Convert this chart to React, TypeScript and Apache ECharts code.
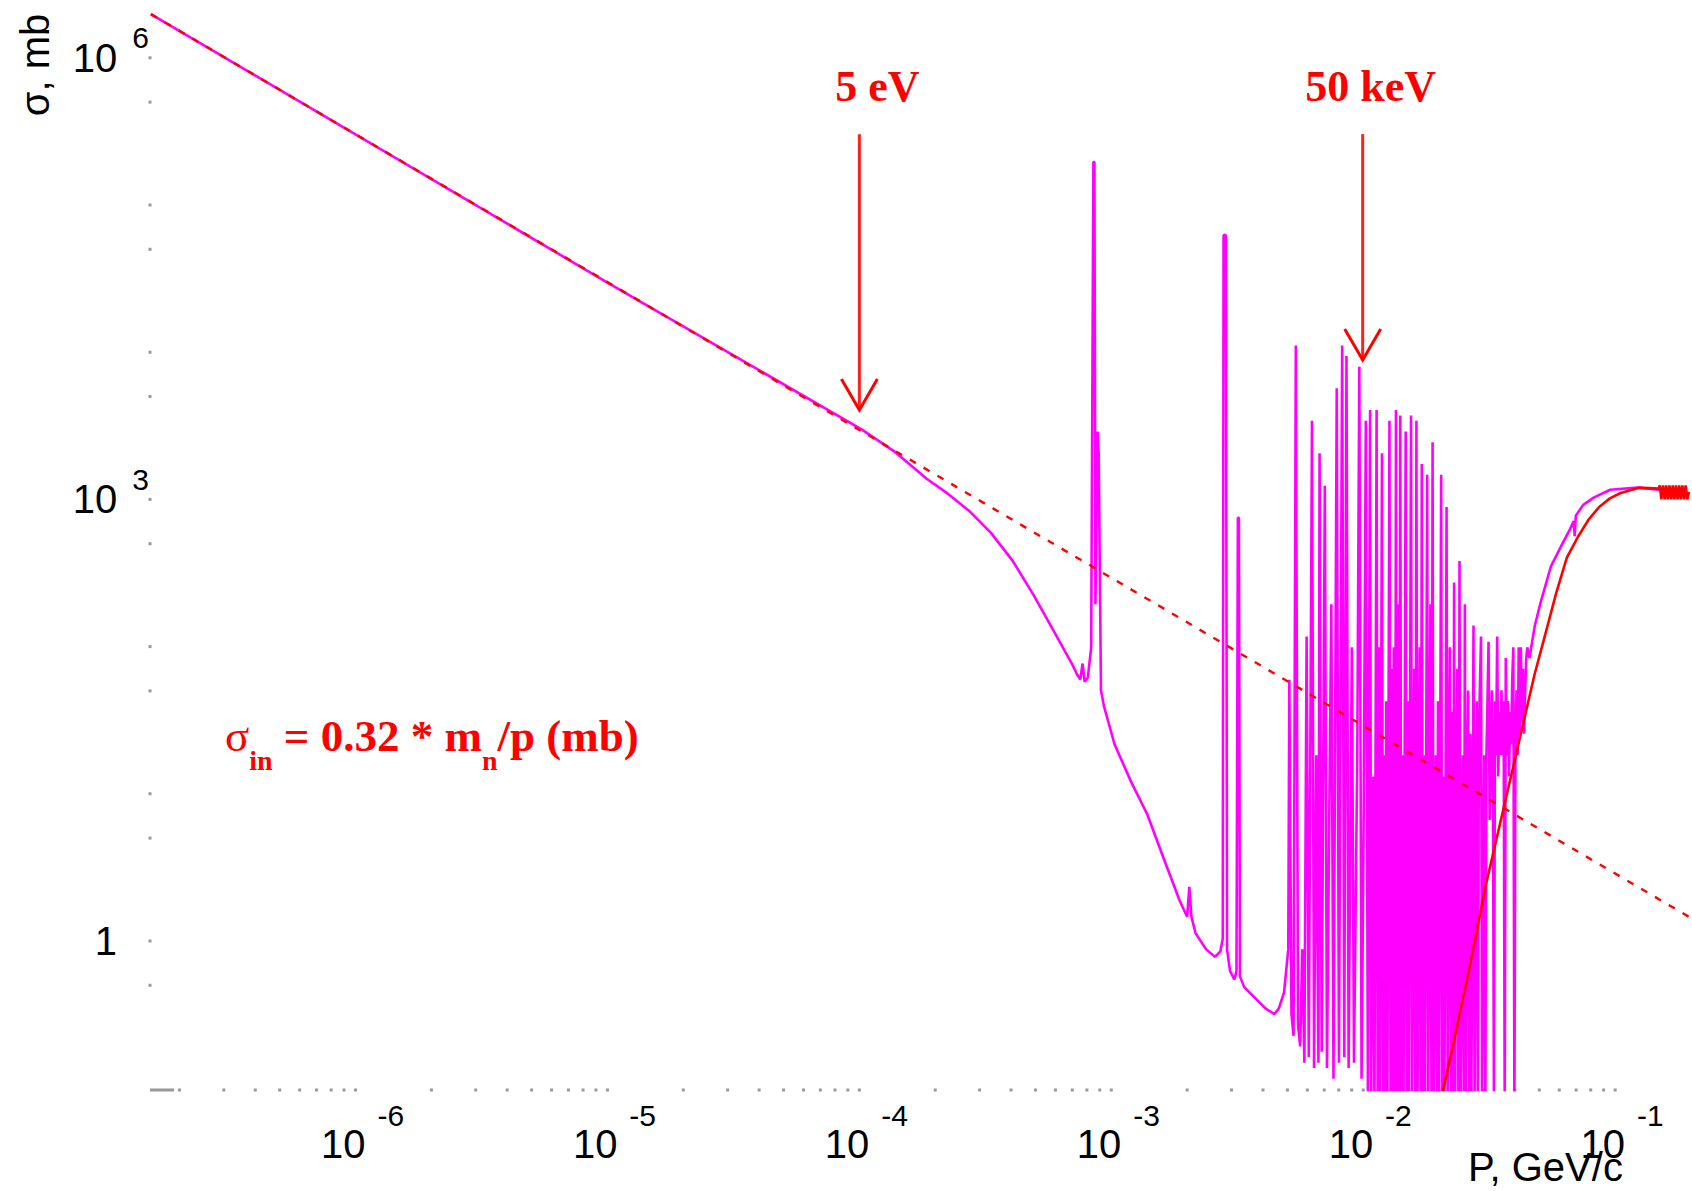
import React, { useEffect, useRef } from 'react';
import * as echarts from 'echarts';

// Axis extents (GeV/c and mb)
const X_MIN = 1.528e-7;
const X_MAX = 0.1964;
const Y_MIN = 0.0972;
const Y_MAX = 2.47e6;

// Elastic cross-section (magenta): [p GeV/c, sigma mb]
const elasticPoints: [number, number][] = [
  [1.54e-7, 1.98e6], [1.0e-5, 2.97e4], [1.02e-4, 2990], [1.37e-4, 2130], [1.85e-4, 1380],
  [2.25e-4, 1090], [2.74e-4, 830], [3.33e-4, 592], [4.06e-4, 382], [4.93e-4, 222],
  [6.01e-4, 121], [6.97e-4, 76.7], [7.31e-4, 64.9], [7.53e-4, 59.6], [7.69e-4, 76.7],
  [7.84e-4, 57.7], [8.07e-4, 61.7], [8.32e-4, 98.9], [8.49e-4, 1.96e5], [8.57e-4, 1.96e5],
  [8.65e-4, 194], [8.83e-4, 2890], [8.91e-4, 2060], [9.10e-4, 50.4], [9.36e-4, 39.1],
  [1.03e-3, 21.7], [1.20e-3, 12.0], [1.39e-3, 7.23], [1.61e-3, 3.68], [1.87e-3, 1.87],
  [2.00e-3, 1.46], [2.04e-3, 2.33], [2.08e-3, 1.46], [2.16e-3, 1.13], [2.38e-3, 0.877],
  [2.58e-3, 0.78], [2.71e-3, 0.849], [2.77e-3, 1.04], [2.79e-3, 6.24e4], [2.85e-3, 6.24e4],
  [2.88e-3, 0.877], [2.96e-3, 0.627], [3.08e-3, 0.547], [3.14e-3, 0.627], [3.18e-3, 750],
  [3.21e-3, 750], [3.24e-3, 0.575], [3.37e-3, 0.486], [3.72e-3, 0.41], [4.10e-3, 0.347],
  [4.44e-3, 0.319], [4.62e-3, 0.347], [4.85e-3, 0.447],
  [5.04e-3, 0.877], [5.09e-3, 59.6], [5.19e-3, 0.319], [5.29e-3, 0.227], [5.40e-3, 11100],
  [5.51e-3, 0.269], [5.62e-3, 0.192], [5.73e-3, 0.877], [5.84e-3, 0.149], [5.96e-3, 117],
  [6.08e-3, 0.162], [6.26e-3, 3420], [6.38e-3, 0.137], [6.51e-3, 18.3], [6.64e-3, 0.149],
  [6.71e-3, 2060], [6.84e-3, 0.177], [7.04e-3, 1240], [7.18e-3, 0.137], [7.33e-3, 6.65],
  [7.47e-3, 194], [7.62e-3, 0.116], [7.85e-3, 5680], [8.01e-3, 0.149], [8.25e-3, 11100],
  [8.41e-3, 0.162], [8.58e-3, 9420], [8.75e-3, 0.137], [9.01e-3, 98.9], [9.19e-3, 0.149],
  [9.47e-3, 18.3], [9.65e-3, 7960], [9.85e-3, 0.116],
  [1.004e-2, 6.65], [1.024e-2, 3420], [1.044e-2, 0.07], [1.055e-2, 50.4], [1.065e-2, 4050],
  [1.075e-2, 0.07], [1.097e-2, 13.1], [1.108e-2, 0.07], [1.13e-2, 4050], [1.141e-2, 0.07],
  [1.152e-2, 98.9], [1.164e-2, 0.07], [1.187e-2, 2060], [1.198e-2, 0.07], [1.21e-2, 18.3],
  [1.222e-2, 0.07], [1.234e-2, 42.6], [1.247e-2, 0.07], [1.271e-2, 3420], [1.284e-2, 0.07],
  [1.297e-2, 70.7], [1.309e-2, 0.07], [1.322e-2, 98.9], [1.336e-2, 0.07], [1.349e-2, 4050],
  [1.362e-2, 0.07], [1.376e-2, 194], [1.389e-2, 0.07], [1.403e-2, 3720], [1.417e-2, 0.07],
  [1.431e-2, 18.3], [1.445e-2, 0.07], [1.474e-2, 2890], [1.488e-2, 0.07], [1.503e-2, 42.6],
  [1.518e-2, 0.07], [1.533e-2, 18.3], [1.548e-2, 3720], [1.563e-2, 0.07], [1.594e-2, 70.7],
  [1.61e-2, 0.07], [1.626e-2, 3420], [1.642e-2, 0.07], [1.658e-2, 3.38], [1.675e-2, 98.9],
  [1.691e-2, 0.07], [1.708e-2, 1740], [1.725e-2, 0.07], [1.742e-2, 18.3], [1.759e-2, 0.07],
  [1.794e-2, 1470], [1.812e-2, 0.07], [1.83e-2, 6.65], [1.848e-2, 194], [1.866e-2, 0.07],
  [1.885e-2, 2440], [1.903e-2, 0.07], [1.941e-2, 18.3], [1.96e-2, 0.07], [1.98e-2, 42.6],
  [1.999e-2, 0.07], [2.039e-2, 1470], [2.059e-2, 0.07], [2.08e-2, 13.1], [2.1e-2, 0.07],
  [2.142e-2, 888], [2.163e-2, 0.07], [2.185e-2, 9.32], [2.206e-2, 98.9], [2.228e-2, 0.07],
  [2.25e-2, 35.9], [2.272e-2, 0.07], [2.295e-2, 272], [2.318e-2, 0.07], [2.34e-2, 4.74],
  [2.364e-2, 70.7], [2.387e-2, 0.07], [2.411e-2, 382], [2.434e-2, 0.07], [2.483e-2, 18.3],
  [2.507e-2, 0.07], [2.532e-2, 194], [2.557e-2, 0.07], [2.582e-2, 9.32], [2.608e-2, 50.4],
  [2.634e-2, 0.07], [2.66e-2, 25.6], [2.686e-2, 0.07], [2.74e-2, 139], [2.767e-2, 0.07],
  [2.794e-2, 6.65], [2.822e-2, 42.6], [2.85e-2, 0.07], [2.878e-2, 25.6], [2.935e-2, 117],
  [2.964e-2, 0.07], [3.023e-2, 18.3], [3.053e-2, 0.07], [3.083e-2, 18.3], [3.113e-2, 42.6],
  [3.144e-2, 108], [3.175e-2, 6.65], [3.207e-2, 13.1], [3.238e-2, 50.4], [3.27e-2, 18.3],
  [3.303e-2, 0.07], [3.335e-2, 42.6], [3.368e-2, 18.3], [3.402e-2, 117], [3.435e-2, 13.1],
  [3.469e-2, 35.9], [3.504e-2, 18.3], [3.538e-2, 50.4], [3.573e-2, 18.3], [3.609e-2, 42.6],
  [3.644e-2, 0.07], [3.68e-2, 83.6], [3.717e-2, 18.3], [3.754e-2, 42.6], [3.791e-2, 13.1],
  [3.828e-2, 35.9], [3.866e-2, 21.7], [3.904e-2, 59.6], [3.943e-2, 98.9], [3.982e-2, 0.07],
  [4.021e-2, 25.6], [4.061e-2, 50.4], [4.101e-2, 18.3], [4.142e-2, 98.9], [4.183e-2, 25.6],
  [4.224e-2, 98.9], [4.266e-2, 30.4], [4.308e-2, 70.7], [4.351e-2, 25.6], [4.394e-2, 50.4],
  [4.437e-2, 83.6], [4.481e-2, 98.9], [4.57e-2, 83.6],
  [4.80e-2, 139], [5.04e-2, 194], [5.56e-2, 351], [6.14e-2, 491], [6.64e-2, 633],
  [6.84e-2, 713], [6.91e-2, 563], [6.98e-2, 775], [7.47e-2, 918], [8.25e-2, 1033],
  [9.56e-2, 1163], [0.1224, 1202], [0.1489, 1163], [0.1962, 1105],
];

// Inelastic cross-section (red solid)
const inelasticPoints: [number, number][] = [
  [2.07e-2, 0.0946], [2.29e-2, 0.209], [2.65e-2, 0.681], [3.07e-2, 2.42], [3.56e-2, 7.23],
  [4.13e-2, 21.7], [4.79e-2, 64.9], [5.28e-2, 121], [5.83e-2, 230], [6.43e-2, 402],
  [7.10e-2, 553], [7.83e-2, 725], [8.64e-2, 888], [9.53e-2, 1016], [0.1052, 1105],
  [0.1244, 1202], [0.1489, 1183],
  [0.1504, 1243], [0.1526, 999], [0.1549, 1243], [0.1572, 999], [0.1595, 1243],
  [0.1619, 999], [0.1643, 1243], [0.1668, 999], [0.1693, 1243], [0.1718, 999],
  [0.1743, 1243], [0.1769, 999], [0.1796, 1243], [0.1822, 999], [0.1849, 1243],
  [0.1877, 999], [0.1905, 1243], [0.1933, 999], [0.1962, 1124],
];

// sigma_in = 0.32 * m_n / p  (red dotted), endpoints
const formulaPoints: [number, number][] = [[1.54e-7, 1.98e6], [0.1962, 1.46]];

// Axis ticks
const xTickDecades = [-7, -6, -5, -4, -3, -2, -1];
const xTickMantissas = [1, 2, 3, 4, 5, 6, 7, 8, 9];
const yTickValues = [0.5, 1, 5, 10, 50, 100, 500, 1000, 5000, 1e4, 5e4, 1e5, 5e5, 1e6];
const xLabelExponents = [-6, -5, -4, -3, -2, -1];
const yLabelExponents = [0, 3, 6];

// Arrows: label, p, sigma at top, sigma at tip
const arrowMarks: { label: string; p: number; top: number; tip: number }[] = [
  { label: '5 eV', p: 1.0e-4, top: 3.03e5, tip: 4050 },
  { label: '50 keV', p: 9.95e-3, top: 3.03e5, tip: 8850 },
];

const expOf = (v: number) => {
  const e = Math.log10(v);
  const r = Math.round(e);
  return Math.abs(e - r) < 1e-6 ? r : null;
};

export default function App() {
  const ref = useRef<HTMLDivElement>(null);
  useEffect(() => {
    if (!ref.current) return;
    const chart = echarts.init(ref.current, undefined, { renderer: 'svg' });

    const xTicks: [number, number][] = [];
    xTickDecades.forEach((k) =>
      xTickMantissas.forEach((m) => {
        const v = m * Math.pow(10, k);
        if (v > X_MIN && v < X_MAX) xTicks.push([v, Y_MIN]);
      })
    );
    const yTicks: [number, number][] = yTickValues.map((v) => [X_MIN, v]);

    const option: any = {
      animation: false,
      backgroundColor: '#ffffff',
      grid: { left: 150, right: 0, top: 0, bottom: 101, containLabel: false },
      xAxis: {
        type: 'log',
        logBase: 10,
        min: X_MIN,
        max: X_MAX,
        axisLine: { show: false },
        axisTick: { show: false },
        splitLine: { show: false },
        axisLabel: {
          margin: 10,
          formatter: (v: number) => {
            const r = expOf(v);
            if (r === null || xLabelExponents.indexOf(r) < 0) return '';
            return '{b|10}{s|' + r + '}';
          },
          rich: {
            b: { fontSize: 40, fontFamily: 'Liberation Sans', color: '#000', padding: [24, 0, 0, 14] },
            s: { fontSize: 30, fontFamily: 'Liberation Sans', color: '#000', padding: [0, 0, 34, 12] },
          },
        },
      },
      yAxis: {
        type: 'log',
        logBase: 10,
        min: Y_MIN,
        max: Y_MAX,
        axisLine: { show: false },
        axisTick: { show: false },
        splitLine: { show: false },
        axisLabel: {
          margin: 1,
          formatter: (v: number) => {
            const r = expOf(v);
            if (r === null || yLabelExponents.indexOf(r) < 0) return '';
            if (r === 0) return '{b|1}{e| }';
            return '{b|10}{s|' + r + '}';
          },
          rich: {
            b: { fontSize: 40, fontFamily: 'Liberation Sans', color: '#000', padding: [15, 0, 15, 0] },
            s: { fontSize: 30, fontFamily: 'Liberation Sans', color: '#000', padding: [0, 0, 40, 15] },
            e: { fontSize: 30, fontFamily: 'Liberation Sans', width: 32, padding: [0, 0, 40, 0] },
          },
        },
      },
      series: [
        {
          name: 'elastic',
          type: 'line',
          data: elasticPoints,
          showSymbol: false,
          symbol: 'none',
          clip: true,
          lineStyle: { color: '#ff00ff', width: 2.6, join: 'bevel' },
          z: 2,
        },
        {
          name: 'formula',
          type: 'line',
          data: formulaPoints,
          showSymbol: false,
          symbol: 'none',
          clip: true,
          lineStyle: { color: '#ff0000', width: 2.4, type: [7, 9] },
          z: 3,
        },
        {
          name: 'inelastic',
          type: 'line',
          data: inelasticPoints,
          showSymbol: false,
          symbol: 'none',
          clip: true,
          lineStyle: { color: '#ff0000', width: 2.6, join: 'bevel' },
          z: 4,
        },
        {
          name: 'xticks',
          type: 'scatter',
          data: xTicks,
          symbol: 'rect',
          symbolSize: [3, 3],
          clip: false,
          itemStyle: { color: '#808080' },
          silent: true,
          z: 1,
        },
        {
          name: 'yticks',
          type: 'scatter',
          data: yTicks,
          symbol: 'rect',
          symbolSize: [3, 3],
          clip: false,
          itemStyle: { color: '#808080' },
          silent: true,
          z: 1,
        },
        {
          name: 'corner',
          type: 'scatter',
          data: [[X_MIN, Y_MIN]],
          symbol: 'rect',
          symbolSize: [24, 3],
          symbolOffset: [12, 0],
          clip: false,
          itemStyle: { color: '#808080' },
          silent: true,
          z: 1,
        },
      ],
    };
    chart.setOption(option);

    const px = (p: number, s: number) =>
      chart.convertToPixel({ gridIndex: 0 } as any, [p, s]) as number[];

    const graphics: any[] = [];
    arrowMarks.forEach((a, i) => {
      const top = px(a.p, a.top);
      const tip = px(a.p, a.tip);
      graphics.push({
        type: 'line',
        shape: { x1: top[0], y1: top[1], x2: tip[0], y2: tip[1] },
        style: { stroke: '#ff2020', lineWidth: 3 },
        z: 10,
      });
      graphics.push({
        type: 'polyline',
        shape: { points: [[tip[0] - 18, tip[1] - 31], [tip[0], tip[1]], [tip[0] + 18, tip[1] - 31]] },
        style: { stroke: '#ff0000', lineWidth: 3, fill: 'none' },
        z: 10,
      });
      graphics.push({
        type: 'text',
        x: tip[0] + (i === 0 ? 18 : 8),
        y: 86,
        style: {
          text: a.label,
          fill: '#ff0000',
          font: 'bold 44px "Liberation Serif"',
          align: 'center',
          verticalAlign: 'middle',
          textAlign: 'center',
          textVerticalAlign: 'middle',
        },
        z: 10,
      });
    });

    graphics.push({
      type: 'text',
      x: 225,
      y: 744,
      style: {
        text: '{g|σ}{sub|in}{m| = 0.32 * m}{sub|n}{m|/p (mb)}',
        align: 'left',
        verticalAlign: 'middle',
        textAlign: 'left',
        textVerticalAlign: 'middle',
        rich: {
          g: { fill: '#ff0000', fontSize: 45, fontFamily: 'Liberation Serif', padding: [0, 0, 15.5, 0] },
          m: { fill: '#ff0000', fontSize: 45, fontWeight: 'bold', fontFamily: 'Liberation Serif', padding: [0, 0, 15.5, 0] },
          sub: { fill: '#ff0000', fontSize: 28, fontWeight: 'bold', fontFamily: 'Liberation Serif', padding: [32.5, 0, 0, 0] },
        },
      },
      z: 10,
    });

    graphics.push({
      type: 'text',
      x: 35,
      y: 65,
      rotation: Math.PI / 2,
      style: {
        text: 'σ, mb',
        fill: '#000',
        font: '40px "Liberation Sans"',
        align: 'center',
        verticalAlign: 'middle',
        textAlign: 'center',
        textVerticalAlign: 'middle',
      },
      z: 10,
    });

    graphics.push({
      type: 'text',
      x: 1468,
      y: 1167,
      style: {
        text: 'P, GeV/c',
        fill: '#000',
        font: '40px "Liberation Sans"',
        align: 'left',
        verticalAlign: 'middle',
        textAlign: 'left',
        textVerticalAlign: 'middle',
      },
      z: 10,
    });

    chart.setOption({ graphic: graphics });

    return () => chart.dispose();
  }, []);

  return (
    <div
      ref={ref}
      style={{ position: 'fixed', left: 0, top: 0, width: 1692, height: 1191, background: '#fff' }}
    />
  );
}
